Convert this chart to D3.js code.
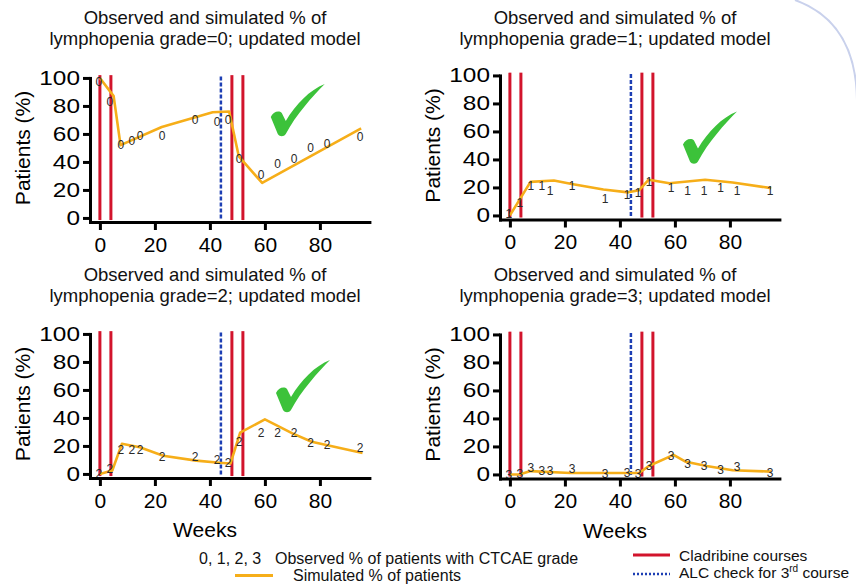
<!DOCTYPE html>
<html>
<head>
<meta charset="utf-8">
<script src="https://cdn.jsdelivr.net/npm/d3@7"></script>
<style>
  body { margin: 0; background: #fff; }
  svg { display: block; font-family: "Liberation Sans", Arial, sans-serif; }
</style>
</head>
<body>
<div id="chart"></div>
<script>
// ---------- DATA ----------
const obsWeeks = [0, 4, 8, 12, 15, 23, 35, 43, 47, 51, 59, 65, 71, 77, 83, 95];
const obsG0 = [97, 83, 52, 55, 59, 59, 70, 69, 70, 42, 31, 39, 42, 50, 53, 58];
const obsG1 = [1, 9, 21, 21, 18, 21, 12, 15, 16, 24, 20, 18, 18, 20, 18, 18];
const obsG2 = [0, 3.5, 17, 17, 17, 12, 12, 10.5, 8, 23, 29.5, 29.5, 29.5, 22.5, 21, 18.5];
const obsG3 = [0, 0.5, 5, 3, 3, 4, 0.5, 1.2, 0.5, 6.5, 13.5, 8, 6.5, 3.5, 5.5, 1.2];

const simWeeksG0 = [0, 5, 7.5, 22.5, 41, 47, 50.5, 59, 95];
const simG0 = [100, 87, 52, 65, 75.5, 76, 44, 25, 64];
const simWeeksG1 = [0, 7.5, 16, 22.5, 34, 43, 47, 50.5, 58, 71, 81, 95];
const simG1 = [0, 24, 25, 22.5, 18.5, 16.5, 18, 25.5, 23, 25.5, 23.5, 19.5];
const simWeeksG2 = [0, 4.5, 8, 14.5, 23, 35, 43.5, 47.5, 51, 60, 70, 77, 95.5];
const simG2 = [0, 2.5, 21.5, 19, 13, 9.5, 8, 7.5, 29.5, 39, 29, 23, 15];
const simWeeksG3 = [0, 3.5, 7.5, 22, 41, 47, 50.5, 59.5, 64, 71.5, 81, 95];
const simG3 = [0, 0, 2.4, 1, 1, 1, 6, 14, 9, 6, 3, 2];

const cladribineWeeks = [0, 4, 48, 52];
const alcWeeks = [44];
const grades = ["0", "1", "2", "3"];
const xTicks = [0, 20, 40, 60, 80];
const yTicks = [0, 20, 40, 60, 80, 100];
// check mark anchors (week, %) ; null = none
const checks = [[66.5, 60], [67.3, 38.6], [68.4, 45.7], null];

const RED = "#d2142c";
const BLUE = "#1d3fb4";
const ORANGE = "#f6ae19";
const GREEN = "#3cc23a";

const svg = d3
	.select("#chart")
	.append("svg")
	.attr("width", 856)
	.attr("height", 584);

svg.append("rect").attr("width", 856).attr("height", 584).attr("fill", "#fff");

// slide decoration arc top right
svg.append("path")
	.attr("d", "M795,0 Q856,22 857,100")
	.attr("fill", "none")
	.attr("stroke", "#c9d1ec")
	.attr("stroke-width", 2);

const panels = [
	{ obs: obsG0, simW: simWeeksG0, sim: simG0, left: 90, axisY: 222, titleY: 24, weeks: false },
	{ obs: obsG1, simW: simWeeksG1, sim: simG1, left: 500, axisY: 219.5, titleY: 24, weeks: false },
	{ obs: obsG2, simW: simWeeksG2, sim: simG2, left: 90, axisY: 478, titleY: 281, weeks: true },
	{ obs: obsG3, simW: simWeeksG3, sim: simG3, left: 500, axisY: 478.5, titleY: 281, weeks: true },
];

panels.forEach((p, i) => drawPanel(p, i));
drawLegend();

function drawPanel(p, i) {
	const g = svg.append("g");

	const x = d3.scaleLinear().domain([-3.6, 98]).range([p.left, p.left + 279.4]);
	const y = d3.scaleLinear().domain([-2.9, 100]).range([p.axisY, p.axisY - 144.06]);

	// title
	const title = g.append("text")
		.attr("x", p.left + 115)
		.attr("text-anchor", "middle")
		.attr("font-size", 18.5)
		.attr("fill", "#111");
	title.append("tspan").attr("x", p.left + 115).attr("y", p.titleY)
		.text("Observed and simulated % of");
	title.append("tspan").attr("x", p.left + 115).attr("y", p.titleY + 21)
		.text(`lymphopenia grade=${grades[i]}; updated model`);

	// cladribine + ALC lines
	g.selectAll(".clad")
		.data(cladribineWeeks)
		.enter()
		.append("line")
		.attr("x1", (d) => x(d)).attr("x2", (d) => x(d))
		.attr("y1", y(102)).attr("y2", y(-1.5))
		.attr("stroke", RED)
		.attr("stroke-width", 3);

	g.selectAll(".alc")
		.data(alcWeeks)
		.enter()
		.append("line")
		.attr("x1", (d) => x(d)).attr("x2", (d) => x(d))
		.attr("y1", y(101)).attr("y2", y(-1.5))
		.attr("stroke", BLUE)
		.attr("stroke-width", 2.5)
		.attr("stroke-dasharray", "4,2");

	// simulated line
	const line = d3.line().x((d) => x(d[0])).y((d) => y(d[1]));
	g.append("path")
		.datum(p.simW.map((w, k) => [w, p.sim[k]]))
		.attr("d", line)
		.attr("fill", "none")
		.attr("stroke", ORANGE)
		.attr("stroke-width", 2.6)
		.attr("stroke-linejoin", "round");

	// observed grade labels
	g.selectAll(".obs")
		.data(obsWeeks.map((w, k) => [w, p.obs[k]]))
		.enter()
		.append("text")
		.attr("x", (d) => x(d[0]) - 1)
		.attr("y", (d) => y(d[1]))
		.attr("dy", "0.36em")
		.attr("text-anchor", "middle")
		.attr("font-size", 12)
		.attr("fill", "#2a2a2a")
		.text(grades[i]);

	// axes
	const yAxis = g.append("g")
		.attr("transform", `translate(${p.left},0)`)
		.call(d3.axisLeft(y).tickValues(yTicks).tickSize(7).tickSizeOuter(0));
	const xAxis = g.append("g")
		.attr("transform", `translate(0,${p.axisY})`)
		.call(d3.axisBottom(x).tickValues(xTicks).tickSize(8).tickSizeOuter(0));

	[yAxis, xAxis].forEach((ax) => {
		ax.select(".domain").attr("stroke", "#000").attr("stroke-width", 3).attr("stroke-linecap", "square");
		ax.selectAll(".tick line").attr("stroke", "#000").attr("stroke-width", 3);
		ax.selectAll(".tick text").attr("fill", "#000").attr("font-family", null);
	});
	yAxis.attr("font-size", 20);
	yAxis.selectAll(".tick text")
		.attr("x", -10 / 1.22)
		.attr("transform", "scale(1.22,1)");
	xAxis.attr("font-size", 21);
	xAxis.selectAll(".tick text").attr("y", 15);

	// axis titles
	if (p.weeks) {
		g.append("text")
			.attr("x", p.left + 115)
			.attr("y", p.axisY + 59)
			.attr("text-anchor", "middle")
			.attr("font-size", 21)
			.text("Weeks");
	}

	g.append("text")
		.attr("transform", `translate(${p.left - 60},${y(50)}) rotate(-90)`)
		.attr("text-anchor", "middle")
		.attr("font-size", 21)
		.text("Patients (%)");

	// green check mark
	if (checks[i]) {
		const cx = x(checks[i][0]);
		const cy = y(checks[i][1]);
		g.append("path")
			.attr("transform", `translate(${cx},${cy})`)
			.attr("d", "M-12,-17 C-10,-22 -4,-24 -1,-21 L3,-13 C13,-30 27,-44 42,-50 C30,-38 13,-19 3,0 C1,3 -3,3 -5,0 Z")
			.attr("fill", GREEN);
	}
}

function drawLegend() {
	const lg = svg.append("g").attr("font-size", 16).attr("fill", "#111");

	lg.append("text").attr("x", 199).attr("y", 564).text("0, 1, 2, 3");
	lg.append("text").attr("x", 275).attr("y", 564).text("Observed % of patients with CTCAE grade");

	lg.append("line")
		.attr("x1", 235).attr("x2", 273).attr("y1", 575.5).attr("y2", 575.5)
		.attr("stroke", ORANGE).attr("stroke-width", 3);
	lg.append("text").attr("x", 293).attr("y", 581).text("Simulated % of patients");

	lg.append("line")
		.attr("x1", 633).attr("x2", 670).attr("y1", 555).attr("y2", 555)
		.attr("stroke", RED).attr("stroke-width", 3);
	lg.append("text").attr("x", 679).attr("y", 561).attr("font-size", 15.5).text("Cladribine courses");

	lg.append("line")
		.attr("x1", 633).attr("x2", 670).attr("y1", 574).attr("y2", 574)
		.attr("stroke", BLUE).attr("stroke-width", 2.5).attr("stroke-dasharray", "2,2");
	const alc = lg.append("text").attr("x", 679).attr("y", 578).attr("font-size", 15.5);
	alc.append("tspan").text("ALC check for 3");
	alc.append("tspan").attr("font-size", 10).attr("dy", -6).text("rd");
	alc.append("tspan").attr("dy", 6).text(" course");
}
</script>
</body>
</html>
